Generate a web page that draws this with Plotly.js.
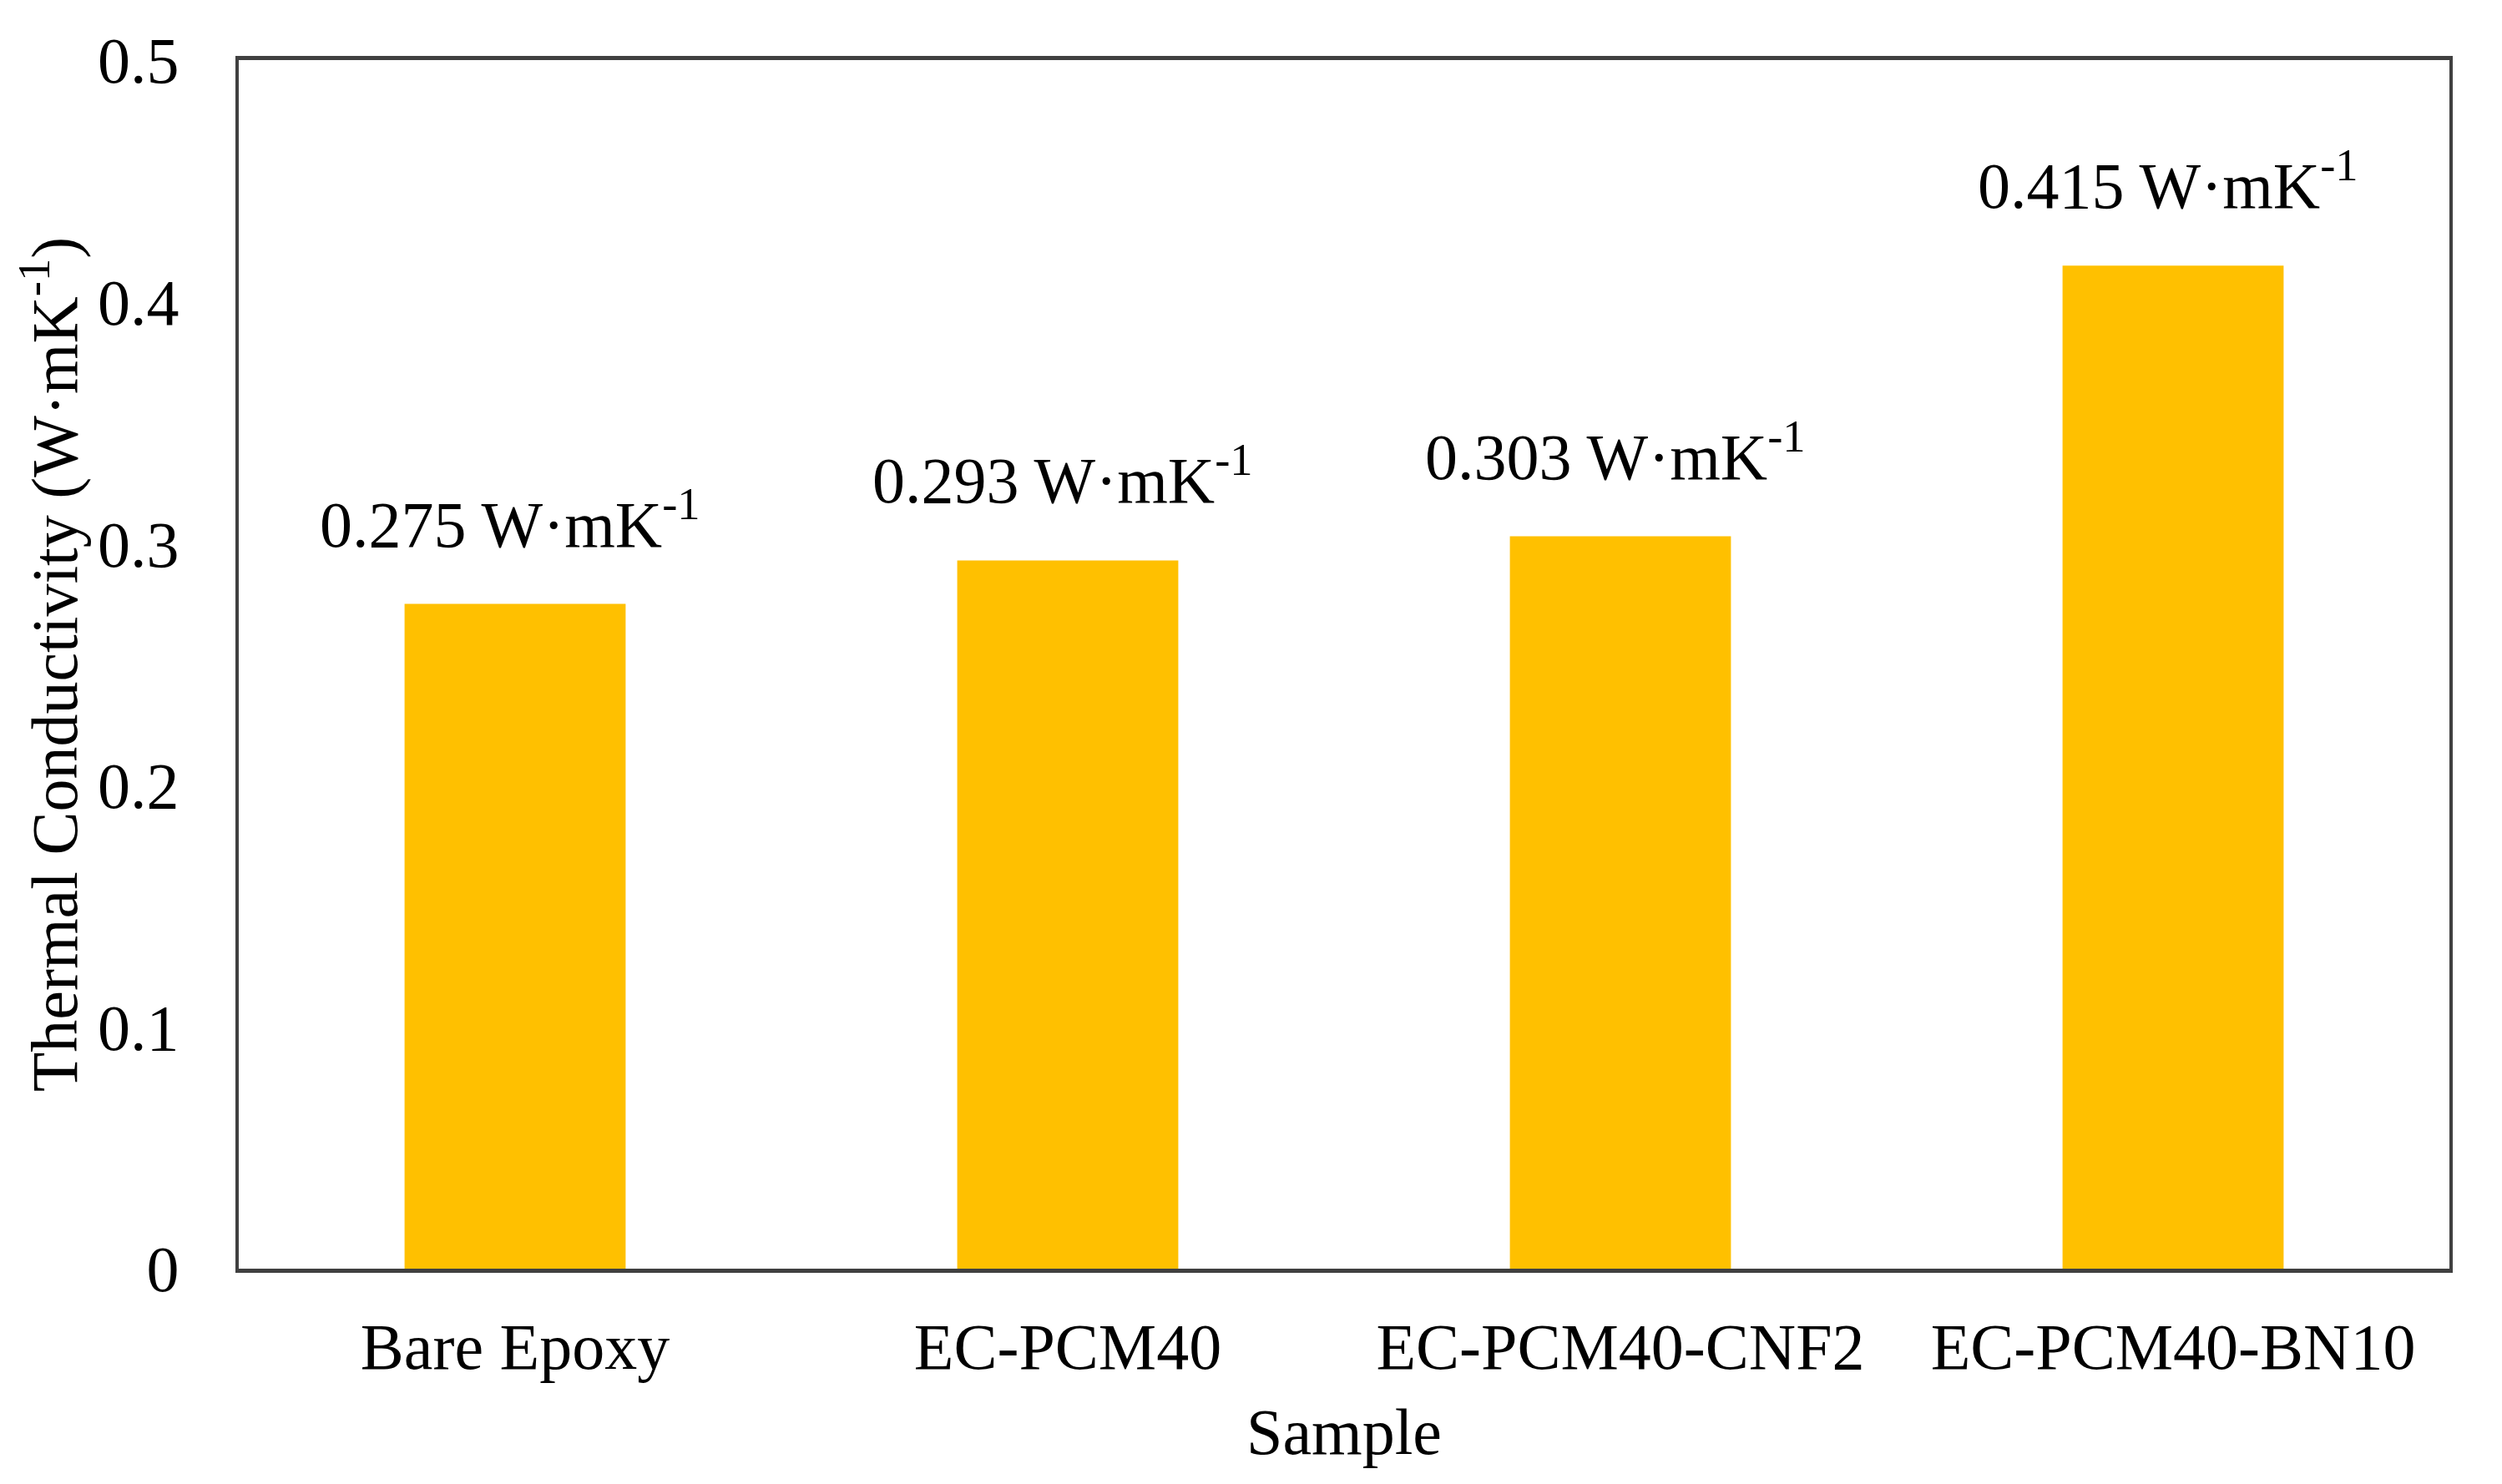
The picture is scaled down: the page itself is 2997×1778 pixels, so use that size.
<!DOCTYPE html>
<html>
<head>
<meta charset="utf-8">
<script src="https://cdn.plot.ly/plotly-3.0.1.min.js"></script>
<style>html,body{margin:0;padding:0;background:#fff;}#chart{width:2997px;height:1778px;}</style>
</head>
<body>
<div id="chart"></div>
<script>
const samples = ["Bare Epoxy", "EC-PCM40", "EC-PCM40-CNF2", "EC-PCM40-BN10"];
const conductivity = [0.275, 0.293, 0.303, 0.415];
const unitLabel = " W·mK<sup>-1</sup>";
const yTicks = [0, 0.1, 0.2, 0.3, 0.4, 0.5];
const yTickText = ["0", "0.1", "0.2", "0.3", "0.4", "0.5"];

const FONT = "'Liberation Serif', 'DejaVu Serif', serif";

const trace = {
  type: "bar",
  x: samples,
  y: conductivity,
  marker: { color: "#FFC000", line: { width: 0 } },
  hoverinfo: "none"
};

const annotations = samples.map((s, i) => ({
  x: s,
  y: conductivity[i],
  xref: "x",
  yref: "y",
  text: conductivity[i].toFixed(3) + unitLabel,
  showarrow: false,
  yanchor: "bottom",
  xanchor: "center",
  xshift: -6,
  yshift: 50,
  font: { family: FONT, size: 78, color: "#000" }
}));

const layout = {
  width: 2997,
  height: 1778,
  margin: { l: 286, r: 63, t: 72, b: 258 },
  paper_bgcolor: "#fff",
  plot_bgcolor: "#fff",
  showlegend: false,
  bargap: 0.6,
  font: { family: FONT, size: 78, color: "#000" },
  xaxis: {
    type: "category",
    showline: true,
    linecolor: "#404040",
    linewidth: 5,
    mirror: true,
    ticks: "",
    ticklabelstandoff: 21,
    showgrid: false,
    zeroline: false,
    tickfont: { family: FONT, size: 78, color: "#000" },
    title: { text: "Sample", font: { family: FONT, size: 78, color: "#000" }, standoff: 33 }
  },
  yaxis: {
    range: [0, 0.5],
    tickvals: yTicks,
    ticktext: yTickText,
    showline: true,
    linecolor: "#404040",
    linewidth: 4,
    mirror: true,
    ticks: "",
    ticklabelstandoff: 52,
    showgrid: false,
    zeroline: false,
    tickfont: { family: FONT, size: 78, color: "#000" },
    title: { text: "Thermal Conductivity (W·mK<sup>-1</sup>)", font: { family: FONT, size: 78, color: "#000" }, standoff: 0 }
  },
  annotations: annotations
};

Plotly.newPlot("chart", [trace], layout, { displayModeBar: false, staticPlot: true });
</script>
</body>
</html>
